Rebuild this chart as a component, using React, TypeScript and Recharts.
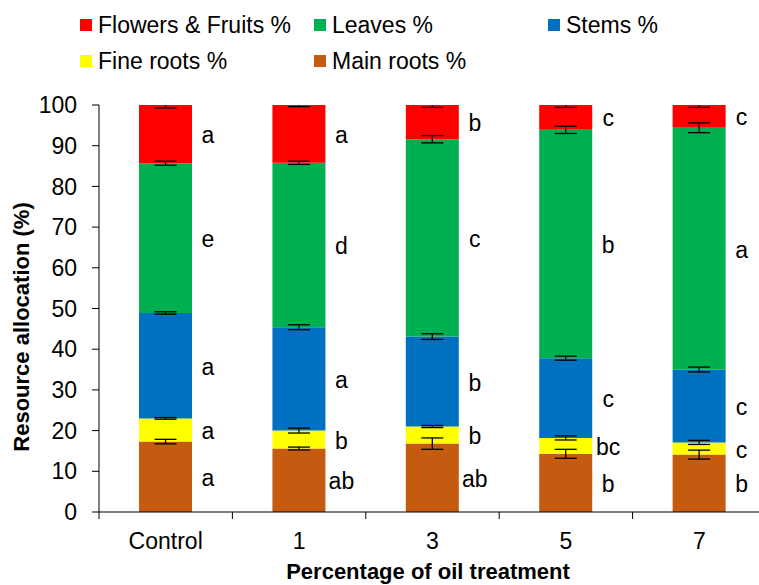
import React from "react";
import { BarChart, Bar, XAxis, YAxis, ErrorBar, LabelList } from "recharts";

const FONT = '"Liberation Sans", Arial, sans-serif';

const categories = ["Control", "1", "3", "5", "7"];
const yTicks = [0, 10, 20, 30, 40, 50, 60, 70, 80, 90, 100];

// segment sizes (%), bottom to top
const mainRoots = [17.3, 15.6, 16.8, 14.3, 14.1];
const fineRoots = [5.7, 4.4, 4.2, 3.9, 3.0];
const stems = [25.9, 25.4, 22.1, 19.6, 17.9];
const leaves = [36.8, 40.4, 48.5, 56.1, 59.4];
const flowers = [14.3, 14.2, 8.4, 6.1, 5.6];

// standard errors
const mainRootsErr = [0.55, 0.35, 1.4, 1.1, 1.1];
const fineRootsErr = [0.2, 0.6, 0.25, 0.5, 0.5];
const stemsErr = [0.3, 0.6, 0.7, 0.5, 0.6];
const leavesErr = [0.5, 0.4, 0.9, 0.9, 1.2];
const flowersErr = [0.7, 0.4, 0.6, 0.6, 0.6];

// significance letters
const mainRootsSig = ["a", "ab", "ab", "b", "b"];
const fineRootsSig = ["a", "b", "b", "bc", "c"];
const stemsSig = ["a", "a", "b", "c", "c"];
const leavesSig = ["e", "d", "c", "b", "a"];
const flowersSig = ["a", "a", "b", "c", "c"];

const series = [
  { key: "main", name: "Main roots %", color: "#C55A11", values: mainRoots, err: mainRootsErr, sig: mainRootsSig },
  { key: "fine", name: "Fine roots %", color: "#FFFF00", values: fineRoots, err: fineRootsErr, sig: fineRootsSig },
  { key: "stems", name: "Stems %", color: "#0070C0", values: stems, err: stemsErr, sig: stemsSig },
  { key: "leaves", name: "Leaves %", color: "#00B050", values: leaves, err: leavesErr, sig: leavesSig },
  { key: "flowers", name: "Flowers & Fruits %", color: "#FF0000", values: flowers, err: flowersErr, sig: flowersSig },
];

const data = categories.map((name, i) => {
  const row: Record<string, string | number> = { name };
  series.forEach((s) => {
    row[s.key] = s.values[i];
    row[s.key + "Err"] = s.err[i];
    row[s.key + "Sig"] = s.sig[i];
  });
  return row;
});

// legend rows as in the figure
const legendRows = [
  ["flowers", "leaves", "stems"],
  ["fine", "main"],
];
const legendCols = [80, 314, 548];

const PLOT_TOP = 105;

function SigLabel(props: any) {
  const { x, y, width, height, value } = props;
  return (
    <text
      x={Number(x) + Number(width) + 16}
      y={Number(y) + Number(height) / 2 + 1}
      textAnchor="middle"
      dominantBaseline="central"
      fontSize={23}
      fontFamily={FONT}
      fill="#000"
    >
      {value}
    </text>
  );
}

function CategoryTick(props: any) {
  const { x, y, payload, index, visibleTicksCount } = props;
  const half = payload?.offset ?? 0;
  return (
    <g>
      <line x1={x - half} x2={x - half} y1={y} y2={y + 7} stroke="#000" />
      {index === visibleTicksCount - 1 && (
        <line x1={x + half} x2={x + half} y1={y} y2={y + 7} stroke="#000" />
      )}
      <text x={x} y={y + 37} textAnchor="middle" fontSize={23} fontFamily={FONT} fill="#000">
        {payload.value}
      </text>
    </g>
  );
}

export default function App() {
  return (
    <div
      style={{
        position: "absolute",
        left: 0,
        top: 0,
        width: 759,
        height: 585,
        overflow: "hidden",
        background: "#fff",
        fontFamily: FONT,
      }}
    >
      {legendRows.map((row, r) =>
        row.map((key, c) => {
          const s = series.find((d) => d.key === key)!;
          return (
            <div
              key={key}
              style={{
                position: "absolute",
                left: legendCols[c],
                top: 25 + r * 36 - 14,
                height: 28,
                display: "flex",
                alignItems: "center",
                fontSize: 23,
                color: "#000",
                whiteSpace: "nowrap",
              }}
            >
              <span style={{ width: 12, height: 12, background: s.color, marginRight: 6, display: "inline-block" }} />
              {s.name}
            </div>
          );
        })
      )}
      <BarChart
        width={800}
        height={585}
        data={data}
        margin={{ top: PLOT_TOP, right: 34, bottom: 0, left: 0 }}
        barCategoryGap="30%"
      >
        <XAxis
          dataKey="name"
          height={73}
          interval={0}
          tickLine={false}
          tickSize={0}
          tickMargin={0}
          axisLine={{ stroke: "#000" }}
          tick={<CategoryTick />}
          label={{
            content: () => (
              <text x={428} y={579} textAnchor="middle" fontSize={22} fontWeight="bold" fontFamily={FONT} fill="#000">
                Percentage of oil treatment
              </text>
            ),
          }}
        />
        <YAxis
          domain={[0, 100]}
          ticks={yTicks}
          allowDataOverflow
          width={99}
          tickSize={7}
          tickMargin={15}
          axisLine={{ stroke: "#000" }}
          tickLine={{ stroke: "#000" }}
          tick={{ fill: "#000", fontSize: 23, fontFamily: FONT }}
          label={{
            content: () => (
              <text
                x={29}
                y={327}
                transform="rotate(-90 29 327)"
                textAnchor="middle"
                fontSize={22}
                fontWeight="bold"
                fontFamily={FONT}
                fill="#000"
              >
                Resource allocation (%)
              </text>
            ),
          }}
        />
        {series.map((s) => (
          <Bar key={s.key} dataKey={s.key} name={s.name} stackId="a" fill={s.color} isAnimationActive={false}>
            <ErrorBar dataKey={s.key + "Err"} width={11} stroke="#000" strokeWidth={1.3} />
            <LabelList dataKey={s.key + "Sig"} content={<SigLabel />} />
          </Bar>
        ))}
      </BarChart>
      {/* hide the error-bar tops that run above the 100 % line, as in the source figure */}
      <div
        style={{
          position: "absolute",
          left: 101,
          top: PLOT_TOP - 10,
          width: 658,
          height: 10,
          background: "#fff",
        }}
      />
    </div>
  );
}
